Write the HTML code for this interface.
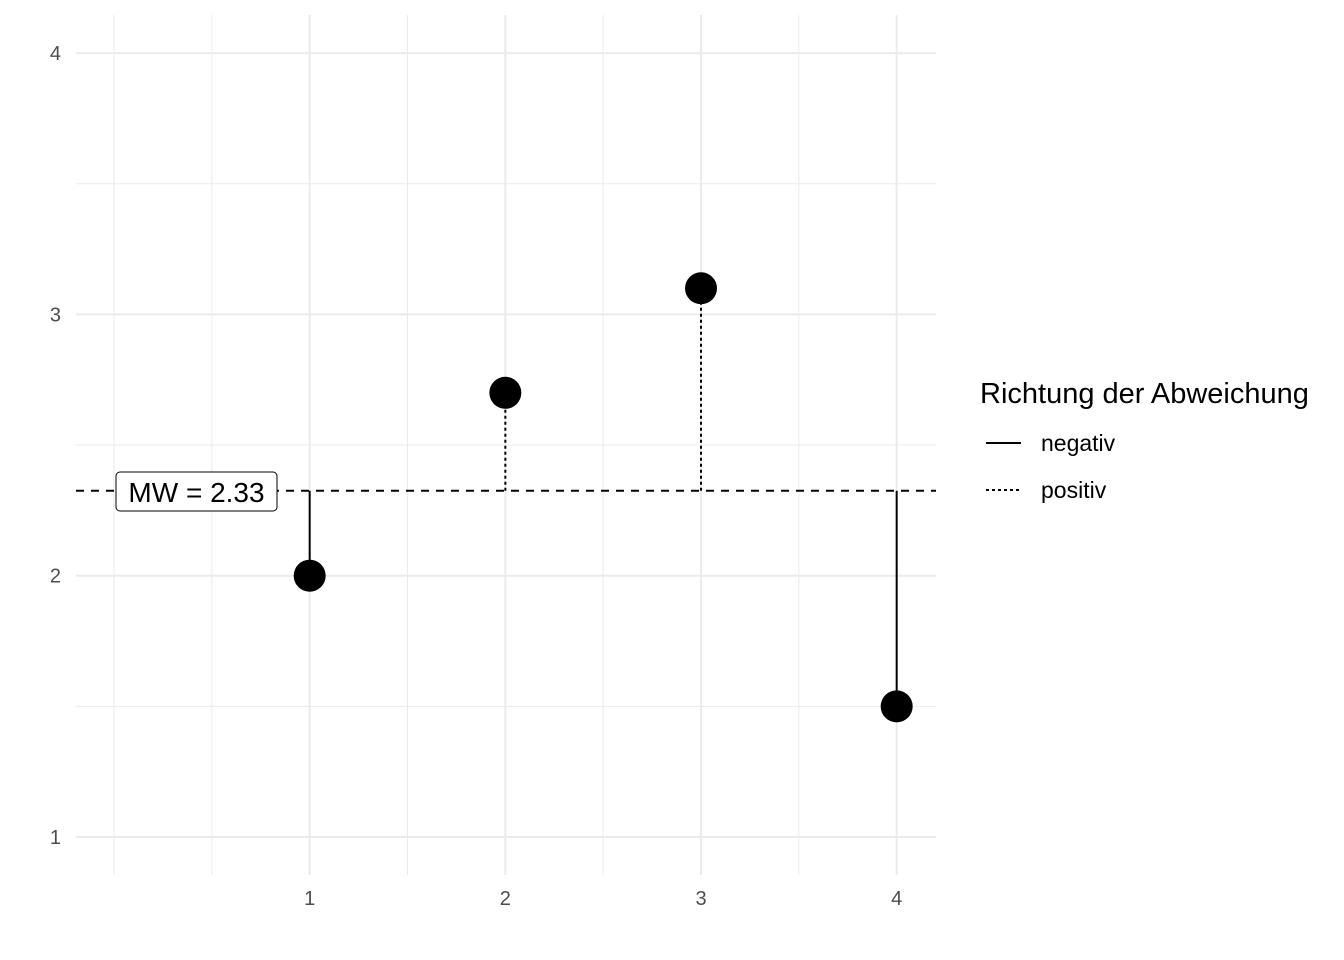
<!DOCTYPE html>
<html><head><meta charset="utf-8"><style>
body{margin:0;background:#fff;}
svg{display:block;font-family:"Liberation Sans",Arial,sans-serif;}
</style></head><body>
<svg id="chart" width="1344" height="960"></svg>
<script>
const categories=[1,2,3,4];
const values=[2,2.7,3.1,1.5];
const yTicks=[1,2,3,4];
const xTicks=[1,2,3,4];
const meanValue=values.reduce((a,b)=>a+b,0)/values.length;
const meanLabel="MW = "+meanValue.toFixed(2);
const legendLabels=["negativ","positiv"];

const NS="http://www.w3.org/2000/svg";
const svg=document.getElementById('chart');
const X=v=>114+v*195.67;
const Y=v=>837-(v-1)*261.3;
function mk(tag,attrs,parent){const e=document.createElementNS(NS,tag);for(const k in attrs)e.setAttribute(k,attrs[k]);(parent||svg).appendChild(e);return e;}

const grid=mk('g',{});


const L=76,R=936,T=15,B=875;
for(let v=0.5;v<=4.5;v+=0.5){const y=Y(v);if(y<T||y>B)continue;
 const l=mk('line',{x1:L,x2:R,y1:y,y2:y,stroke:'#ebebeb','stroke-width':Number.isInteger(v)?2:1},grid);
 }
for(let v=0;v<=4;v+=0.5){const x=X(v);
 const l=mk('line',{x1:x,x2:x,y1:T,y2:B,stroke:'#ebebeb','stroke-width':Number.isInteger(v)&&v>0?2:1},grid);
 }
yTicks.forEach(t=>{const e=mk('text',{x:61,y:Y(t)+7,'text-anchor':'end','font-size':20,fill:'#4d4d4d'});e.textContent=t;
 });
xTicks.forEach(t=>{const e=mk('text',{x:X(t),y:905,'text-anchor':'middle','font-size':20,fill:'#4d4d4d'});e.textContent=t;
 });

const ml=mk('line',{x1:L,x2:R,y1:Y(meanValue),y2:Y(meanValue),stroke:'#000','stroke-width':2,'stroke-dasharray':'8,7'});


categories.forEach((c,i)=>{const v=values[i];const pos=v>meanValue;
 const s=mk('line',{x1:X(c),x2:X(c),y1:Y(meanValue),y2:Y(v),stroke:'#000','stroke-width':2,'stroke-dasharray':pos?'3,3':'none'});
 });
categories.forEach((c,i)=>{const p=mk('circle',{cx:X(c),cy:Y(values[i]),r:16,fill:'#000'});
 });

const lg=mk('g',{});

mk('rect',{x:116,y:472,width:161,height:39,rx:4,fill:'#fff',stroke:'#000','stroke-width':1},lg);
const mt=mk('text',{x:196.5,y:502,'text-anchor':'middle','font-size':28,fill:'#000'},lg);mt.textContent=meanLabel;

const leg=mk('g',{});

const lt=mk('text',{x:980,y:403,'font-size':29,fill:'#000'},leg);lt.textContent="Richtung der Abweichung";
legendLabels.forEach((lab,i)=>{const y=443+i*47;
 mk('line',{x1:986,x2:1021,y1:y,y2:y,stroke:'#000','stroke-width':2,'stroke-dasharray':i?'3,3':'none'},leg);
 const t=mk('text',{x:1041,y:y+8,'font-size':23,fill:'#000'},leg);t.textContent=lab;
 });
</script>
</body></html>
